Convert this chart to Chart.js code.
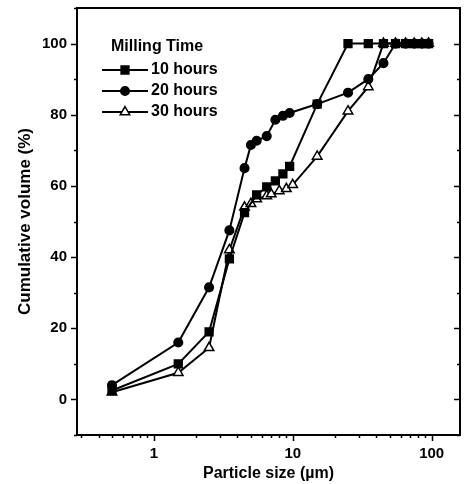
<!DOCTYPE html>
<html><head><meta charset="utf-8">
<script src="https://cdn.jsdelivr.net/npm/chart.js@4/dist/chart.umd.min.js"></script>
<style>html,body{margin:0;padding:0;background:#fff}</style>
</head><body>
<canvas id="c" width="467" height="484"></canvas>
<script>
// ---- data ----
const size10 = [0.5, 1.5, 2.5, 3.5, 4.5, 5.5, 6.5, 7.5, 8.5, 9.5, 15, 25, 35, 45, 55, 65, 75, 85, 95];
const vol10  = [2.5, 10, 19, 39.5, 52.5, 57.5, 59.7, 61.4, 63.4, 65.5, 83, 100, 100, 100, 100, 100, 100, 100, 100];
const size20 = [0.5, 1.5, 2.5, 3.5, 4.5, 5, 5.5, 6.5, 7.5, 8.5, 9.5, 15, 25, 35, 45, 55, 65, 75, 85, 95];
const vol20  = [4, 16, 31.5, 47.5, 65, 71.5, 72.7, 74, 78.6, 79.7, 80.5, 83, 86.2, 90, 94.5, 100, 100, 100, 100, 100];
const size30 = [0.5, 1.5, 2.5, 3.5, 4.5, 5, 5.5, 6.5, 7, 8, 9, 10, 15, 25, 35, 45, 55, 65, 75, 85, 95];
const vol30  = [2, 7.5, 14.5, 42, 54, 55, 56.3, 57.2, 57.7, 58.6, 59.2, 60.3, 68.3, 81, 87.8, 100, 100, 100, 100, 100, 100];
const seriesNames = ['10 hours', '20 hours', '30 hours'];
const legendTitle = 'Milling Time';
const xTickValues = [0.3,0.4,0.5,0.6,0.7,0.8,0.9,1,2,3,4,5,6,7,8,9,10,20,30,40,50,60,70,80,90,100];
const xTickLabels = [1, 10, 100];
const yTickLabels = [0, 20, 40, 60, 80, 100];

const pts = (xs, ys) => xs.map((x, i) => ({x, y: ys[i]}));
const FONT = 'Liberation Sans, Arial, sans-serif';

const frame = {
  id: 'frame',
  afterDraw(chart) {
    const {ctx, chartArea: a, scales} = chart;
    const xs = scales.x, ys = scales.y;
    ctx.save();
    ctx.strokeStyle = '#000';
    ctx.lineWidth = 2;
    ctx.strokeRect(a.left, a.top, a.right - a.left, a.bottom - a.top);
    ctx.lineWidth = 1.5;
    ctx.beginPath();
    xTickValues.forEach(v => {
      const p = Math.round(xs.getPixelForValue(v)) + 0.5;
      const major = xTickLabels.includes(v);
      const len = major ? 6 : 3;
      ctx.moveTo(p, a.bottom); ctx.lineTo(p, a.bottom + len);
    });
    for (let v = -10; v <= 110; v += 10) {
      const p = Math.round(ys.getPixelForValue(v)) + 0.5;
      const major = yTickLabels.includes(v);
      const len = major ? 6 : 3;
      ctx.moveTo(a.left, p); ctx.lineTo(a.left - len, p);
      ctx.moveTo(a.right, p); ctx.lineTo(a.right - len, p);
    }
    ctx.stroke();
    ctx.restore();
  }
};

const legendPlugin = {
  id: 'insideLegend',
  afterDatasetsDraw(chart) {
    const {ctx} = chart;
    ctx.save();
    ctx.fillStyle = '#000';
    ctx.textBaseline = 'middle';
    ctx.textAlign = 'left';
    ctx.font = 'bold 16px ' + FONT;
    ctx.fillText(legendTitle, 111, 47);
    const rows = [70, 91, 112];
    chart.data.datasets.forEach((ds, i) => {
      const y = rows[i];
      ctx.strokeStyle = '#000';
      ctx.lineWidth = 2;
      ctx.beginPath(); ctx.moveTo(102, y); ctx.lineTo(148, y); ctx.stroke();
      ctx.fillStyle = ds.pointBackgroundColor;
      ctx.strokeStyle = '#000';
      ctx.lineWidth = ds.pointBorderWidth;
      Chart.helpers.drawPoint(ctx, {pointStyle: ds.pointStyle, radius: ds.pointRadius, rotation: 0, borderWidth: ds.pointBorderWidth}, 125, y);
      ctx.fillStyle = '#000';
      ctx.fillText(seriesNames[i], 151, y);
    });
    ctx.restore();
  }
};

const mk = (label, data, style, fill, r) => ({
  label, data,
  borderColor: '#000', backgroundColor: fill, borderWidth: 2,
  pointStyle: style, pointRadius: r, pointHoverRadius: r,
  pointBackgroundColor: fill, pointBorderColor: '#000', pointBorderWidth: 1.5,
  tension: 0, fill: false
});

new Chart(document.getElementById('c'), {
  type: 'line',
  data: {
    datasets: [
      mk(seriesNames[0], pts(size10, vol10), 'rect', '#000', 5.5),
      mk(seriesNames[1], pts(size20, vol20), 'circle', '#000', 4.3),
      mk(seriesNames[2], pts(size30, vol30), 'triangle', '#fff', 5.5)
    ]
  },
  options: {
    responsive: false,
    animation: false,
    devicePixelRatio: 1,
    layout: {padding: {left: 0, top: 8, right: 4, bottom: 0}},
    plugins: {legend: {display: false}, tooltip: {enabled: false}},
    scales: {
      x: {
        type: 'logarithmic', position: 'bottom', min: 0.28, max: 160,
        grid: {display: true, drawOnChartArea: false, tickLength: 6, tickColor: 'rgba(0,0,0,0)'},
        border: {display: false},
        afterBuildTicks: s => { s.ticks = xTickValues.map(v => ({value: v})); },
        afterFit: s => { s.height = 49; s.paddingLeft = 0; s.paddingRight = 0; },
        ticks: {
          autoSkip: false, maxRotation: 0, color: '#000', padding: 4,
          font: {family: FONT, size: 15, weight: 'bold'},
          callback: v => xTickLabels.includes(v) ? String(v) : ''
        },
        title: {display: true, text: 'Particle size (\u00b5m)', color: '#000',
          font: {family: FONT, size: 16, weight: 'bold'}, padding: {top: 0, bottom: 1}}
      },
      y: {
        min: -10, max: 110,
        grid: {display: true, drawOnChartArea: false, tickLength: 6, tickColor: 'rgba(0,0,0,0)'},
        border: {display: false},
        afterBuildTicks: s => { const t = []; for (let v = -10; v <= 110; v += 10) t.push({value: v}); s.ticks = t; },
        afterFit: s => { s.width = 77; s.paddingTop = 0; s.paddingBottom = 0; },
        ticks: {
          autoSkip: false, color: '#000', padding: 4,
          font: {family: FONT, size: 15, weight: 'bold'},
          callback: v => yTickLabels.includes(v) ? String(v) : ''
        },
        title: {display: true, text: 'Cumulative volume (%)', color: '#000',
          font: {family: FONT, size: 17, weight: 'bold'}, padding: {top: 15, bottom: 0}}
      }
    }
  },
  plugins: [frame, legendPlugin]
});
</script>
</body></html>
